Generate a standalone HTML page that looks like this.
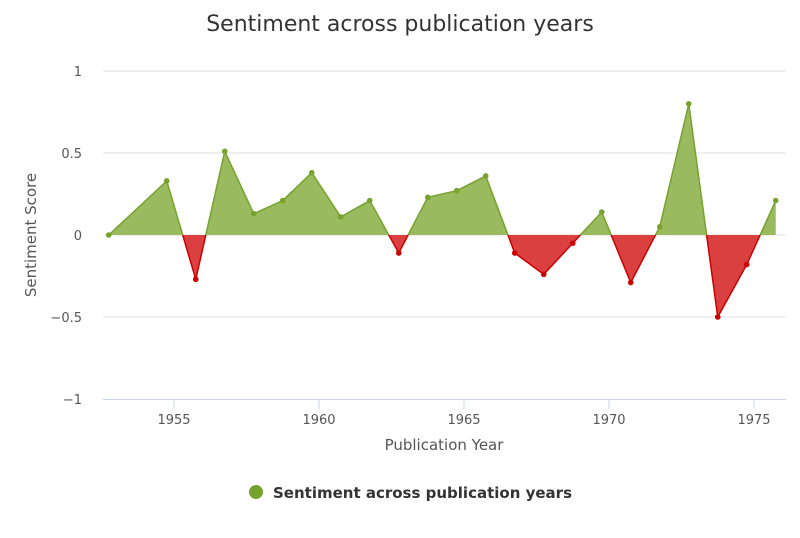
<!DOCTYPE html>
<html><head><meta charset="utf-8"><style>
body{margin:0;background:#fff;font-family:"Liberation Sans","DejaVu Sans",sans-serif}
svg text{font-family:"DejaVu Sans","Liberation Sans",sans-serif}
</style></head><body>
<svg id="chart" width="800" height="533" xmlns="http://www.w3.org/2000/svg">
<text x="400" y="31" text-anchor="middle" font-size="22" fill="#333">Sentiment across publication years</text>
<g id="grid"></g>
<g id="plot"></g>
<text transform="translate(36,235) rotate(-90)" text-anchor="middle" font-size="15" fill="#555">Sentiment Score</text>
<text x="444" y="450" text-anchor="middle" font-size="15" fill="#555">Publication Year</text>
<g>
<circle cx="256" cy="492" r="7" fill="#77a22d"/>
<text x="273" y="498" font-size="15" font-weight="bold" fill="#333">Sentiment across publication years</text>
</g>
</svg>
<script>
const years=[1952.75,1954.75,1955.75,1956.75,1957.75,1958.75,1959.75,1960.75,1961.75,1962.75,1963.75,1964.75,1965.75,1966.75,1967.75,1968.75,1969.75,1970.75,1971.75,1972.75,1973.75,1974.75,1975.75];
const values=[0,0.33,-0.27,0.51,0.13,0.21,0.38,0.11,0.21,-0.11,0.23,0.27,0.36,-0.11,-0.24,-0.05,0.14,-0.29,0.05,0.80,-0.50,-0.18,0.21];
const yTicks=[1,0.5,0,-0.5,-1];
const yTickLabels=["1","0.5","0","−0.5","−1"];
const xTicks=[1955,1960,1965,1970,1975];
const NS="http://www.w3.org/2000/svg";
const X=v=>174+(v-1955)*29;
const Y=v=>235-v*164;
const grid=document.getElementById('grid'),plot=document.getElementById('plot');
function mk(tag,attrs,parent){const e=document.createElementNS(NS,tag);for(const k in attrs)e.setAttribute(k,attrs[k]);parent.appendChild(e);return e;}
yTicks.forEach((t,i)=>{
  if(t!==-1){const l=mk('line',{x1:103,x2:786,y1:Y(t),y2:Y(t),stroke:'#e0e0e0'},grid);
  
  }
  const tx=mk('text',{x:82,y:Y(t)+5,'text-anchor':'end','font-size':13,fill:'#555'},grid);tx.textContent=yTickLabels[i];
  
  
});
const ax=mk('line',{x1:103,x2:786,y1:399.5,y2:399.5,stroke:'#ccd6eb'},grid);


xTicks.forEach(t=>{
  mk('line',{x1:X(t),x2:X(t),y1:399,y2:409,stroke:'#ccd6eb'},grid);
  const tx=mk('text',{x:X(t),y:424,'text-anchor':'middle','font-size':13,fill:'#555'},grid);tx.textContent=t;
  
  
});
const defs=mk('defs',{},plot);
const ca=mk('clipPath',{id:'above'},defs);mk('rect',{x:0,y:0,width:800,height:Y(0)},ca);
const cb=mk('clipPath',{id:'below'},defs);mk('rect',{x:0,y:Y(0),width:800,height:400},cb);
const pts=years.map((y,i)=>X(y)+','+Y(values[i])).join(' ');
const areaPts=X(years[0])+','+Y(0)+' '+pts+' '+X(years[years.length-1])+','+Y(0);
const ga=mk('polygon',{points:areaPts,fill:'#9aba5f','clip-path':'url(#above)'},plot);


const ra=mk('polygon',{points:areaPts,fill:'#db4040','clip-path':'url(#below)'},plot);


const gl=mk('polyline',{points:pts,fill:'none',stroke:'#77a22d','stroke-width':1.5,'clip-path':'url(#above)'},plot);


const rl=mk('polyline',{points:pts,fill:'none',stroke:'#cc0000','stroke-width':1.5,'clip-path':'url(#below)'},plot);


years.forEach((y,i)=>{
  const c=mk('circle',{cx:X(y),cy:Y(values[i]),r:2.8,fill:values[i]<0?'#cc0000':'#77a22d'},plot);
  
  
});
</script>
</body></html>
